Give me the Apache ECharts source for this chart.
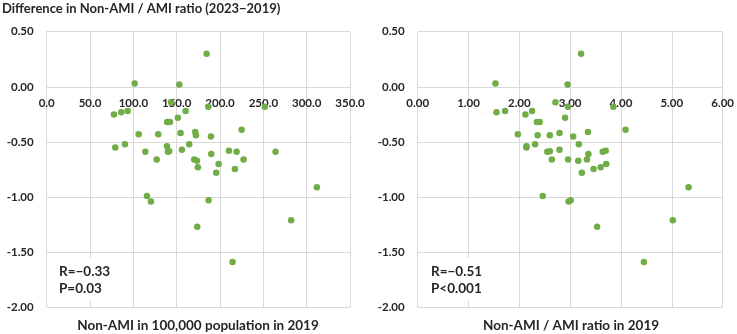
<!DOCTYPE html>
<html><head><meta charset="utf-8">
<script src="https://cdn.jsdelivr.net/npm/echarts@6/dist/echarts.min.js"></script>
<style>html,body{margin:0;padding:0;background:#fff}#c{width:737px;height:334px}</style>
</head><body><div id="c"></div>
<script>
const chartTitle = 'Difference in Non-AMI / AMI ratio (2023\u22122019)';
const leftXName = 'Non-AMI in 100,000 population in 2019';
const rightXName = 'Non-AMI / AMI ratio in 2019';
const leftStats = ['R=\u22120.33', 'P=0.03'];
const rightStats = ['R=\u22120.51', 'P<0.001'];

const leftX = [184.5,101.5,153,77.6,86,93.4,143.4,160.3,186.4,251.8,151.4,139,142.2,106.1,128.7,154.5,171.4,172.2,189.5,224.9,79.1,90.3,138.8,139.9,141.4,113.8,156,164.5,189.9,210.3,219.1,264.1,126.9,170.2,173.4,174.5,198.4,227.2,195.6,217.2,115.7,120.3,186.8,311.8,282.1,173.7,214.5];
const leftY = [0.30,0.03,0.02,-0.25,-0.23,-0.22,-0.14,-0.22,-0.18,-0.18,-0.28,-0.32,-0.32,-0.43,-0.43,-0.42,-0.41,-0.44,-0.45,-0.39,-0.55,-0.52,-0.54,-0.59,-0.585,-0.59,-0.57,-0.52,-0.61,-0.58,-0.59,-0.59,-0.66,-0.66,-0.67,-0.73,-0.70,-0.66,-0.78,-0.745,-0.99,-1.04,-1.03,-0.91,-1.21,-1.27,-1.59];

const rightX = [3.215,1.53,2.95,2.71,2.955,3.85,1.55,1.72,2.12,2.25,2.90,2.345,2.40,1.97,2.36,2.60,2.79,3.06,3.35,4.09,2.14,2.14,2.31,3.17,2.55,2.60,2.79,3.36,3.64,3.70,2.64,2.96,3.16,3.33,3.71,3.60,3.46,3.23,2.46,2.97,3.01,5.33,5.02,3.53,4.45];
const rightY = [0.30,0.03,0.02,-0.14,-0.18,-0.18,-0.23,-0.22,-0.25,-0.22,-0.28,-0.32,-0.32,-0.43,-0.44,-0.44,-0.42,-0.45,-0.41,-0.39,-0.54,-0.55,-0.52,-0.52,-0.59,-0.585,-0.57,-0.61,-0.59,-0.58,-0.66,-0.66,-0.67,-0.66,-0.70,-0.73,-0.745,-0.78,-0.99,-1.04,-1.03,-0.91,-1.21,-1.27,-1.59];

const yMin = -2, yMax = 0.5;
const FONT = 'Lato';
const txt = '#262626';
const gridCol = '#d9d9d9';
const green = '#70ad47';
const gridTop = 31.7, gridH = 275.6;
// shift the x axis from the bottom edge up to the y = 0 line
const zeroOffset = -gridH * (0 - yMin) / (yMax - yMin);

function zip(a, b) { return a.map((v, i) => [v, b[i]]); }

function xAxisCfg(idx, max, interval, dec) {
  return {
    type: 'value', gridIndex: idx, min: 0, max: max, interval: interval,
    position: 'bottom', offset: zeroOffset,
    axisLine: { show: true, onZero: false, lineStyle: { color: gridCol, width: 1 } },
    axisTick: { show: false },
    splitLine: { show: true, lineStyle: { color: gridCol, width: 1 } },
    axisLabel: { show: true, margin: 10, showMinLabel: true, showMaxLabel: true,
      color: txt, fontFamily: FONT, fontWeight: 'bold', fontSize: 11.5,
      formatter: v => v.toFixed(dec) }
  };
}
function yAxisCfg(idx) {
  return {
    type: 'value', gridIndex: idx, min: yMin, max: yMax, interval: 0.5,
    axisLine: { show: false, onZero: false },
    axisTick: { show: false },
    splitLine: { show: true, lineStyle: { color: gridCol, width: 1 } },
    axisLabel: { margin: 13, color: txt, fontFamily: FONT, fontWeight: 'bold', fontSize: 11.5,
      formatter: v => v.toFixed(2) }
  };
}

function statBox(x, lines) {
  return [
    { type: 'rect', z: 50, shape: { x: x - 6, y: 258, width: 66, height: 42 }, style: { fill: '#fff' } },
    { type: 'text', z: 51, x: x, y: 272, style: { text: lines[0], font: 'bold 13.5px ' + FONT, fill: txt, verticalAlign: 'middle' } },
    { type: 'text', z: 51, x: x, y: 289, style: { text: lines[1], font: 'bold 13.5px ' + FONT, fill: txt, verticalAlign: 'middle' } }
  ];
}

const chart = echarts.init(document.getElementById('c'), null, { renderer: 'canvas' });
const option = {
  animation: false,
  backgroundColor: '#fff',
  grid: [
    { left: 46.7, top: gridTop, width: 303.3, height: gridH },
    { left: 417.7, top: gridTop, width: 308, height: gridH }
  ],
  xAxis: [xAxisCfg(0, 350, 50, 1), xAxisCfg(1, 6, 1, 2)],
  yAxis: [yAxisCfg(0), yAxisCfg(1)],
  series: [
    { type: 'scatter', xAxisIndex: 0, yAxisIndex: 0, data: zip(leftX, leftY),
      symbolSize: 6.5, itemStyle: { color: green, opacity: 1 } },
    { type: 'scatter', xAxisIndex: 1, yAxisIndex: 1, data: zip(rightX, rightY),
      symbolSize: 6.5, itemStyle: { color: green, opacity: 1 } }
  ],
  graphic: [
    { type: 'text', x: 2, y: 9, style: { text: chartTitle, font: 'bold 13px ' + FONT, fill: txt, verticalAlign: 'middle' } },
    { type: 'text', x: 198, y: 326, style: { text: leftXName, font: 'bold 13.5px ' + FONT, fill: txt, align: 'center', verticalAlign: 'middle' } },
    { type: 'text', x: 571, y: 326, style: { text: rightXName, font: 'bold 13.5px ' + FONT, fill: txt, align: 'center', verticalAlign: 'middle' } }
  ].concat(statBox(59, leftStats), statBox(431, rightStats))
};
chart.setOption(option);
</script></body></html>
